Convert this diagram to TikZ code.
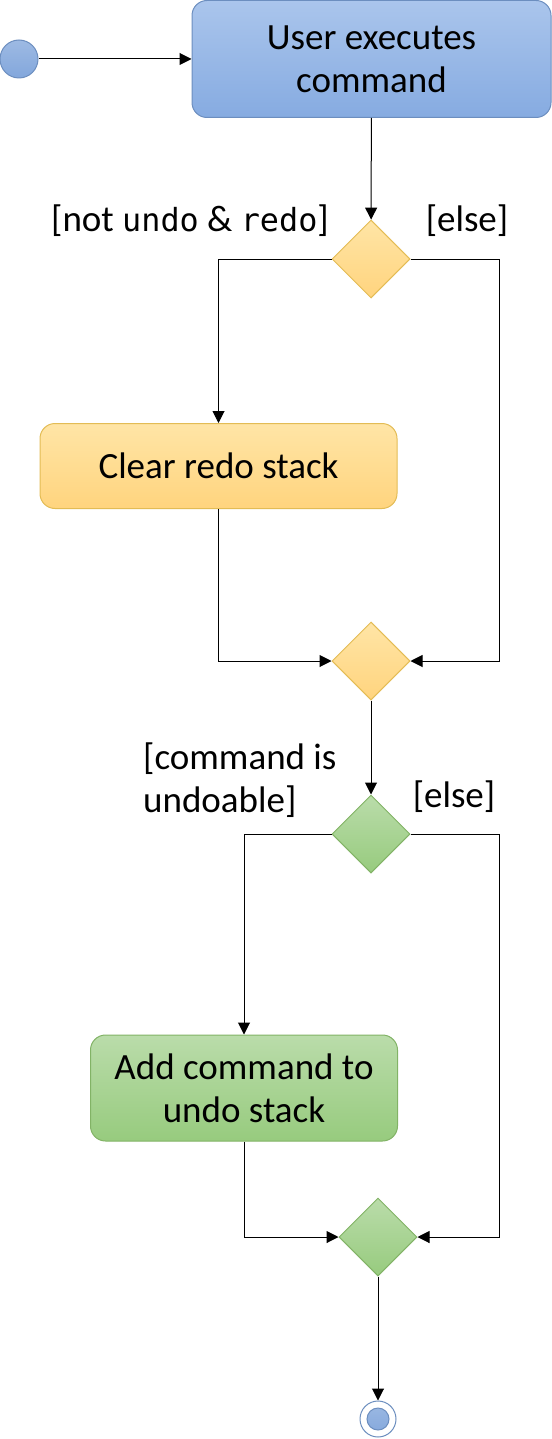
\documentclass[tikz,border=0pt]{standalone}
\usepackage{fontspec}
\setmainfont{Carlito}
\newfontfamily\codefont{DejaVu Sans Mono}[Scale=0.86]
\usetikzlibrary{shapes.geometric,arrows.meta}
\definecolor{bluetop}{HTML}{AAC5EC}
\definecolor{bluebot}{HTML}{86ABE1}
\definecolor{blueline}{HTML}{6C8EBF}
\definecolor{yellowtop}{HTML}{FFE5A6}
\definecolor{yellowbot}{HTML}{FFD47E}
\definecolor{yellowline}{HTML}{E3BC55}
\definecolor{greentop}{HTML}{BADCAA}
\definecolor{greenbot}{HTML}{97CB7E}
\definecolor{greenline}{HTML}{82B366}
\tikzset{
  txt/.style={font=\fontsize{37}{43}\selectfont},
  action/.style={txt, draw, line width=1pt, rounded corners=15pt, align=center, inner sep=0pt},
  bluebox/.style={action, draw=blueline, top color=bluetop, bottom color=bluebot},
  yellowbox/.style={action, draw=yellowline, top color=yellowtop, bottom color=yellowbot},
  greenbox/.style={action, draw=greenline, top color=greentop, bottom color=greenbot},
  choice/.style={diamond, draw, line width=1pt, inner sep=0pt, minimum width=78pt, minimum height=78pt},
  yellowchoice/.style={choice, draw=yellowline, top color=yellowtop, bottom color=yellowbot},
  greenchoice/.style={choice, draw=greenline, top color=greentop, bottom color=greenbot},
  initial/.style={circle, draw=blueline, line width=1pt, top color=bluetop!80!blueline, bottom color=bluebot!85!blueline, minimum size=38pt, inner sep=0pt},
  final/.style={circle, draw=blueline, line width=1pt, fill=white, minimum size=36pt, inner sep=0pt,
    path picture={\fill[draw=blueline, line width=1pt, top color=bluetop!80!blueline, bottom color=bluebot!85!blueline] (path picture bounding box.center) circle (11pt);}},
  guard/.style={txt, inner sep=0pt}
}
\begin{document}
\begin{tikzpicture}[x=1pt, y=-1pt]
      \useasboundingbox (0,0) rectangle (551,1439);
      \draw
        (19,59) node[initial] (start){}
        (371.5,59) node[bluebox, minimum width=359pt, minimum height=117pt] (exec){User executes\\command}
        (371,259) node[yellowchoice] (d1){}
        (218.5,466) node[yellowbox, minimum width=357pt, minimum height=85pt] (clear){Clear redo stack}
        (371,661) node[yellowchoice] (d2){}
        (371,834) node[greenchoice] (d3){}
        (244,1088) node[greenbox, minimum width=307pt, minimum height=106pt] (add){Add command to\\undo stack}
        (378,1237) node[greenchoice] (d4){}
        (378,1419) node[final] (end){};
      \draw
        (190,221) node[guard] (notundo){[not {\codefont undo} \& {\codefont redo}]}
        (467,221) node[guard] (else1){[else]}
        (143,780) node[guard, anchor=west, align=left] (undoable){[command is\\undoable]}
        (454,797) node[guard] (else2){[else]};
      \begin{scope}[line width=1pt, -{Triangle[length=12pt,width=12pt]}]
        \draw (start) to (exec);
        \draw (exec) to (d1);
        \draw (d1.west) -| (clear.north);
        \draw (d1.east) -- ++(89,0) |- (d2.east);
        \draw (clear.south) |- (d2.west);
        \draw (d2) to (d3);
        \draw (d3.west) -| (add.north);
        \draw (d3.east) -- ++(89,0) |- (d4.east);
        \draw (add.south) |- (d4.west);
        \draw (d4) to (end);
      \end{scope}
    \end{tikzpicture}
\end{document}
